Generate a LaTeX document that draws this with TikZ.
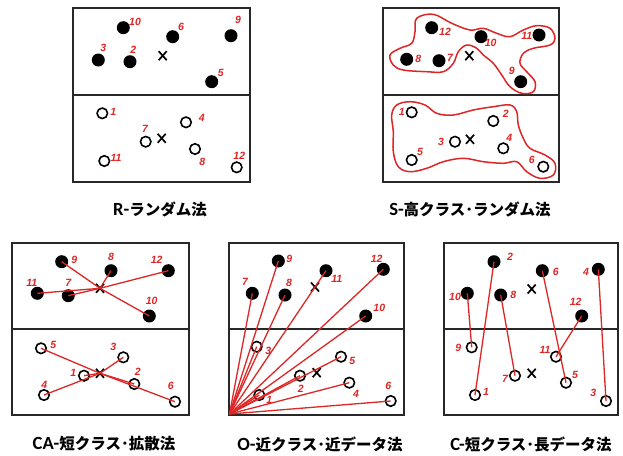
\documentclass[tikz,border=0pt]{standalone}
\usepackage{fontspec}
\newfontfamily\jpfont{Noto Sans CJK JP}
\newfontfamily\latfont[Scale=1.2]{Carlito}
\newfontfamily\numfont{Liberation Sans}
\definecolor{penred}{RGB}{222,38,38}
\definecolor{frame}{RGB}{40,40,40}

\tikzset{
  panel/.style={draw=frame, line width=2pt},
  fdot/.style={circle, fill=black, inner sep=0pt, minimum size=13pt},
  odot/.style={circle, draw=black, line width=1.6pt, inner sep=0pt, minimum size=10.5pt},
  num/.style={text=penred, inner sep=0pt, font=\numfont\bfseries\itshape\fontsize{10.5}{10.5}\selectfont},
  link/.style={draw=penred, line width=1.3pt},
  blob/.style={draw=penred, line width=1.5pt},
  title/.style={inner sep=0pt, font=\bfseries\fontsize{15.5}{18}\selectfont},
  xcross/.pic={\draw[line width=1.7pt, black] (-4,-4.5) -- (4,4.5) (-4,4.5) -- (4,-4.5);}
}

% filled point: name, position, label position, label
\newcommand\blackpt[4]{\node[fdot] (#1) at (#2) {}; \node[num] (#1n) at (#3) {#4};}
% open point: name, position, label position, label
\newcommand\whitept[4]{\node[odot] (#1) at (#2) {}; \node[num] (#1n) at (#3) {#4};}
% centroid cross
\newcommand\xmk[2]{\coordinate (#1) at (#2); \pic at (#1) {xcross};}

\begin{document}
\begin{tikzpicture}[x=1pt, y=-1pt]
\useasboundingbox (0,0) rectangle (623,455);
\fill[white] (0,0) rectangle (623,455);

% ---------------- R: random ----------------
\draw[panel] (73,8) rectangle (250,182);
\draw[panel] (73,95) -- (250,95);
\blackpt{r10}{123.3,27.7}{135,21.7}{10}
\blackpt{r6}{172.7,36.7}{181,26.7}{6}
\blackpt{r9}{231,35.7}{238,20}{9}
\blackpt{r3}{98.3,60}{103.3,48.3}{3}
\blackpt{r2}{130,61.7}{133.3,50}{2}
\blackpt{r5}{211.7,81.7}{220.7,73.3}{5}
\xmk{rX}{162.7,55.7}
\whitept{r1}{102.3,113.3}{113.3,112.3}{1}
\whitept{r4}{186,122.3}{201.7,118.3}{4}
\whitept{r7}{145.7,141.7}{145,129}{7}
\whitept{r8}{195,149}{202.3,161.7}{8}
\whitept{r11}{104.3,161}{116,158.3}{11}
\whitept{r12}{236.7,167.3}{239.3,155.7}{12}
\xmk{rY}{161.7,138.3}
\node[title] (tR) at (160,209) {{\latfont R-}{\jpfont ランダム法}};

% ---------------- S: high-class random ----------------
\draw[panel] (382.7,8) rectangle (559,182);
\draw[panel] (382.7,95) -- (559,95);
\draw[blob] plot[smooth cycle, tension=0.6] coordinates {
  (416.7,18.3) (433.3,14.3) (451.7,23.3) (470,30) (483.3,28.3) (496.7,33.3)
  (510,36.7) (523.3,30) (536.7,25.7) (550,28.3) (555,38.3) (550,45)
  (533.3,48.3) (523.3,53.3) (520,63.3) (526.7,71.7) (535,81.7) (533.3,91.7)
  (521.7,93.3) (510,86.7) (501.7,75) (493.3,63.3) (483.3,55) (476.7,48.3)
  (466.7,45) (458.3,51.7) (453.3,63.3) (443.3,71.7) (426.7,71.7) (403.3,70)
  (393.3,65) (390,55) (400,48.3) (411.7,43.3) (415,31.7)};
\draw[blob] plot[smooth cycle, tension=0.6] coordinates {
  (396.7,105) (410,101.7) (425,105) (436.7,113.3) (453.3,115) (473.3,110)
  (493.3,106.7) (510,105) (516.7,111.7) (518.3,125) (523.3,138.3) (530,148.3)
  (545,155) (555,163.3) (553.3,175) (540,178.3) (526.7,171.7) (516.7,161.7)
  (503.3,163.3) (483.3,161.7) (463.3,158.3) (443.3,161.7) (426.7,168.3)
  (410,171.7) (398.3,166.7) (393.3,151.7) (393.3,131.7) (391.7,115)};
\blackpt{s12}{431.7,27.7}{445,32.3}{12}
\blackpt{s10}{481,36.7}{490.7,42.7}{10}
\blackpt{s11}{539,35}{526.7,35.7}{11}
\blackpt{s8}{406.7,59.3}{418.3,59.3}{8}
\blackpt{s7}{439,60.7}{450,57.7}{7}
\blackpt{s9}{520.7,81.7}{511.7,70.7}{9}
\xmk{sX}{469.3,55.7}
\whitept{s1}{411.7,112.3}{401.7,111.7}{1}
\whitept{s2}{493.3,121}{505.7,113.7}{2}
\whitept{s3}{455,141.7}{441,141.7}{3}
\whitept{s4}{503.3,148.3}{509.3,137.7}{4}
\whitept{s5}{411.7,160}{420,151.7}{5}
\whitept{s6}{543.3,166.7}{531.7,160}{6}
\xmk{sY}{470,139.3}
\node[title] (tS) at (470,209) {{\latfont S-}{\jpfont 高クラス･ランダム法}};

% ---------------- CA: short class, spread ----------------
\draw[panel] (12.3,242.7) rectangle (189.3,415);
\draw[panel] (12.3,329.3) -- (189.3,329.3);
\blackpt{c9}{61.7,261.7}{74.3,260}{9}
\blackpt{c8}{111,270.7}{111,256.7}{8}
\blackpt{c12}{168.3,270.7}{156.7,260}{12}
\blackpt{c11}{37.3,293.3}{31.7,282.7}{11}
\blackpt{c7}{68.3,295.7}{68.3,283.3}{7}
\blackpt{c10}{149.3,316}{151.7,300.7}{10}
\xmk{cX}{100,288.3}
\whitept{c5}{41,348.3}{53.3,345}{5}
\whitept{c3}{123.3,357.3}{113.3,347.3}{3}
\whitept{c1}{84,375.7}{73.3,372.7}{1}
\whitept{c2}{134.3,384}{137.7,371.7}{2}
\whitept{c4}{44,395}{44.3,385}{4}
\whitept{c6}{175,401.7}{170.7,386}{6}
\xmk{cY}{100,373.3}
\foreach \p in {c9,c8,c12,c11,c7,c10} \draw[link] (cX) -- (\p.center);
\foreach \p in {c5,c3,c1,c2,c4,c6} \draw[link] (cY) -- (\p.center);
\node[title] (tCA) at (104,444) {{\latfont CA-}{\jpfont 短クラス･拡散法}};

% ---------------- O: near class, near data ----------------
\draw[panel] (229,242.7) rectangle (404.3,415);
\draw[panel] (229,329.3) -- (404.3,329.3);
\coordinate (o0) at (229.5,414);
\blackpt{o9}{278.3,261}{289.3,259.3}{9}
\blackpt{o12}{383.3,269.3}{376.7,259.3}{12}
\blackpt{o11}{326,270.7}{336.7,279.3}{11}
\blackpt{o7}{252.3,293.3}{245,281.7}{7}
\blackpt{o8}{285,295}{289,282.7}{8}
\blackpt{o10}{365.7,316}{379.3,308.3}{10}
\xmk{oX}{315,287}
\whitept{o3}{256.7,346.7}{268.3,350.7}{3}
\whitept{o5}{341,356.7}{352.3,361}{5}
\whitept{o2}{300,375.7}{300.7,389.3}{2}
\whitept{o4}{349.3,382.7}{356,394}{4}
\whitept{o1}{259.3,395}{269.3,400}{1}
\whitept{o6}{390.7,401}{388.3,386}{6}
\xmk{oY}{316.7,372.7}
\foreach \p in {o7,o9,o8,o11,o12,o10,o3,o5,o2,o4,o1,o6} \draw[link] (o0) -- (\p.center);
\node[title] (tO) at (320,444) {{\latfont O-}{\jpfont 近クラス･近データ法}};

% ---------------- C: short class, long data ----------------
\draw[panel] (444,242.7) rectangle (618,415);
\draw[panel] (444,329.3) -- (618,329.3);
\blackpt{k2}{494,261.7}{510,256.7}{2}
\blackpt{k6}{542.3,270.7}{555.7,272.3}{6}
\blackpt{k4}{598.3,269.3}{586,272.3}{4}
\blackpt{k10}{467.3,293.3}{455,296.7}{10}
\blackpt{k8}{500.7,295}{513.3,295}{8}
\blackpt{k12}{581.7,316}{575.7,301.7}{12}
\xmk{kX}{531.7,289}
\whitept{k9}{471.7,347.3}{458.3,348.3}{9}
\whitept{k11}{556,356.7}{545,350}{11}
\whitept{k7}{515,375.7}{505,379.3}{7}
\whitept{k5}{566,382.7}{575,375}{5}
\whitept{k1}{475,395}{486,391.7}{1}
\whitept{k3}{606,401}{593.3,392.7}{3}
\xmk{kY}{531.7,373.3}
\draw[link] (k10.center) -- (k9.center);
\draw[link] (k2.center) -- (k1.center);
\draw[link] (k8.center) -- (k7.center);
\draw[link] (k6.center) -- (k5.center);
\draw[link] (k12.center) -- (k11.center);
\draw[link] (k4.center) -- (k3.center);
\node[title] (tC) at (531,444) {{\latfont C-}{\jpfont 短クラス･長データ法}};
\end{tikzpicture}
\end{document}
